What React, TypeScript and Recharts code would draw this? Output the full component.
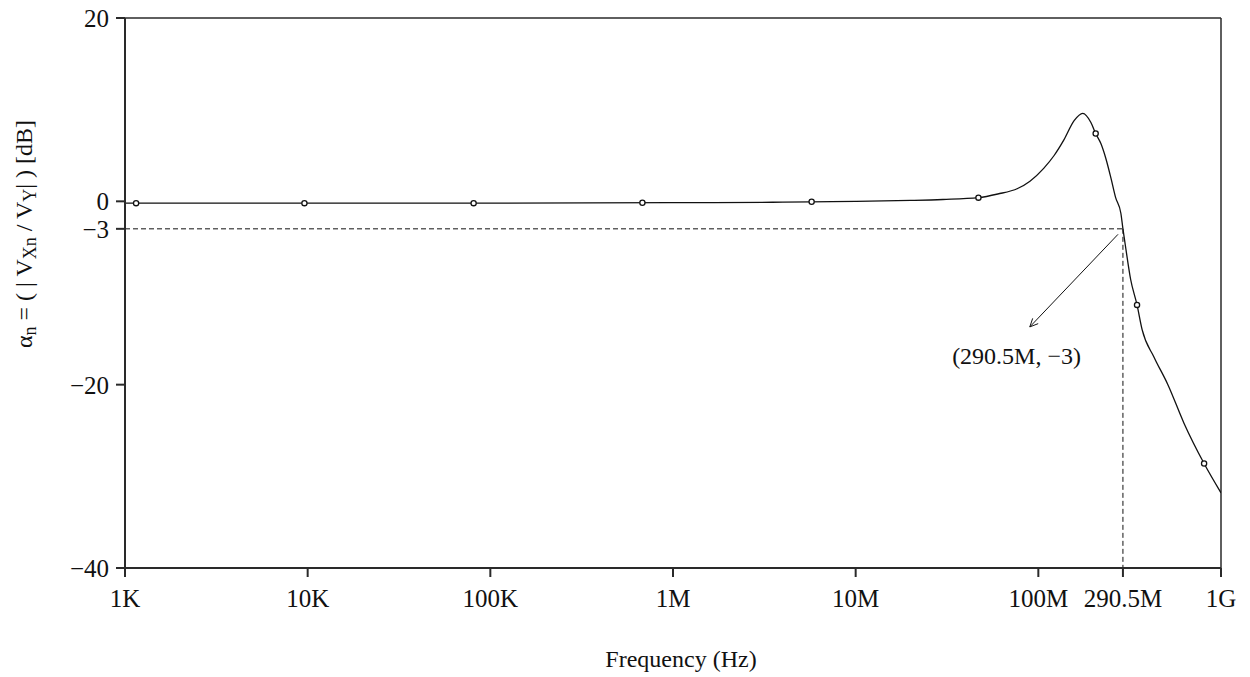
import React from 'react';
import {
  ComposedChart,
  Line,
  Scatter,
  XAxis,
  YAxis,
  ReferenceLine,
  ReferenceDot,
} from 'recharts';

// ---- data ----
const FREQ = [
  1e3, 1e4, 1e5, 1e6, 3.5e6, 5.7e6, 1e7, 2e7, 3e7, 4.7e7, 6e7, 7.7e7, 9e7, 1.07e8,
  1.22e8, 1.38e8, 1.57e8, 1.75e8, 1.94e8, 2.06e8, 2.2e8, 2.34e8, 2.5e8, 2.65e8,
  2.83e8, 2.905e8, 3.02e8, 3.2e8, 3.47e8, 3.7e8, 4.3e8, 5.12e8, 6.27e8, 8.08e8, 1e9,
];
const GAIN = [
  -0.2, -0.2, -0.2, -0.15, -0.1, -0.05, 0.0, 0.1, 0.2, 0.4, 0.8, 1.4, 2.2, 3.6,
  5.0, 6.7, 8.8, 9.6, 8.6, 7.4, 6.3, 4.7, 2.5, 0.4,
  -1.3, -3, -5.3, -8.5, -11.3, -14, -17, -20, -24.2, -28.6, -31.8,
];
const MARK_FREQ = [1.15e3, 9.6e3, 8.1e4, 6.8e5, 5.74e6, 4.7e7, 2.06e8, 3.47e8, 8.08e8];
const MARK_GAIN = [-0.2, -0.2, -0.2, -0.15, -0.05, 0.4, 7.4, -11.3, -28.6];

const X_TICKS = [1e3, 1e4, 1e5, 1e6, 1e7, 1e8, 2.905e8, 1e9];
const X_TICK_LABELS = ['1K', '10K', '100K', '1M', '10M', '100M', '290.5M', '1G'];
const Y_TICKS = [-40, -20, -3, 0, 20];
const Y_TICK_LABELS = ['\u221240', '\u221220', '\u22123', '0', '20'];

const CUTOFF_F = 2.905e8;
const CUTOFF_DB = -3;
const ARROW_FROM = { x: 2.73e8, y: -3.6 };
const ARROW_TO = { x: 8.98e7, y: -13.7 };
const NOTE_POS = { x: 7.6e7, y: -17 };
const NOTE_TEXT = '(290.5M, \u22123)';

const curveData = FREQ.map((f, i) => ({ f, g: GAIN[i] }));
const markData = MARK_FREQ.map((f, i) => ({ f, g: MARK_GAIN[i] }));

const FONT = "'Liberation Serif', 'Times New Roman', serif";
const INK = '#111';

const xLabel = (v: number) => {
  const i = X_TICKS.indexOf(v);
  return i >= 0 ? X_TICK_LABELS[i] : String(v);
};
const yLabel = (v: number) => {
  const i = Y_TICKS.indexOf(v);
  return i >= 0 ? Y_TICK_LABELS[i] : String(v);
};

const ArrowShape = (p: any) => {
  const { x1, y1, x2, y2 } = p;
  if ([x1, y1, x2, y2].some((v) => typeof v !== 'number' || isNaN(v))) return null;
  const ang = Math.atan2(y2 - y1, x2 - x1);
  const len = 9;
  const spread = (25 * Math.PI) / 180;
  const ax = x2 - len * Math.cos(ang - spread);
  const ay = y2 - len * Math.sin(ang - spread);
  const bx = x2 - len * Math.cos(ang + spread);
  const by = y2 - len * Math.sin(ang + spread);
  return (
    <g>
      <line x1={x1} y1={y1} x2={x2} y2={y2} stroke={INK} strokeWidth={1} />
      <polyline
        points={`${ax},${ay} ${x2},${y2} ${bx},${by}`}
        fill="none"
        stroke={INK}
        strokeWidth={1}
      />
    </g>
  );
};

const NoteShape = (p: any) => (
  <text
    x={p.cx}
    y={p.cy}
    dy={7}
    textAnchor="middle"
    fontFamily={FONT}
    fontSize={24}
    fill={INK}
  >
    {NOTE_TEXT}
  </text>
);

const MarkerShape = (p: any) => (
  <circle cx={p.cx} cy={p.cy} r={2.6} fill="#fff" stroke={INK} strokeWidth={1.3} />
);

const YTitle = (props: any) => {
  const vb = props.viewBox || { x: 0, y: 18, width: 125, height: 550 };
  const x = vb.x + 32;
  const y = vb.y + 216;
  return (
    <text
      x={x}
      y={y}
      transform={`rotate(-90, ${x}, ${y})`}
      textAnchor="middle"
      fontFamily={FONT}
      fontSize={24}
      fill={INK}
    >
      <tspan>α</tspan>
      <tspan dy={4} fontSize={18}>n</tspan>
      <tspan dy={-4}>{' = ( | V'}</tspan>
      <tspan dy={4} fontSize={18}>Xn</tspan>
      <tspan dy={-4}>{' / V'}</tspan>
      <tspan dy={4} fontSize={18}>Y</tspan>
      <tspan dy={-4}>{'| ) [dB]'}</tspan>
    </text>
  );
};

const XTitle = (props: any) => {
  const vb = props.viewBox || { x: 125, y: 568, width: 1096, height: 109 };
  return (
    <text
      x={vb.x + vb.width / 2 + 8}
      y={vb.y + 99}
      textAnchor="middle"
      fontFamily={FONT}
      fontSize={24}
      fill={INK}
    >
      Frequency (Hz)
    </text>
  );
};

export default function App() {
  return (
    <div style={{ margin: '-8px 0 0 -8px', width: 1250, height: 677 }}>
      <ComposedChart
        width={1250}
        height={677}
        margin={{ top: 18, right: 29, bottom: 0, left: 0 }}
        style={{ background: '#fff' }}
      >
        <XAxis
          type="number"
          dataKey="f"
          scale="log"
          domain={[1e3, 1e9]}
          allowDataOverflow
          ticks={X_TICKS}
          interval={0}
          tickFormatter={xLabel}
          height={109}
          tickSize={9}
          tickMargin={12}
          stroke="#2a2a2a"
          strokeWidth={2}
          tick={{ fontFamily: FONT, fontSize: 25, fill: INK }}
          label={{ content: XTitle }}
        />
        <YAxis
          type="number"
          dataKey="g"
          domain={[-40, 20]}
          allowDataOverflow
          ticks={Y_TICKS}
          interval={0}
          tickFormatter={yLabel}
          width={125}
          tickSize={9}
          tickMargin={7}
          stroke="#2a2a2a"
          strokeWidth={2}
          tick={{ fontFamily: FONT, fontSize: 25, fill: INK }}
          label={{ content: YTitle }}
        />
        <ReferenceLine y={20} stroke="#2a2a2a" strokeWidth={1.5} />
        <ReferenceLine x={1e9} stroke="#2a2a2a" strokeWidth={1.5} />
        <ReferenceLine
          segment={[
            { x: 1e3, y: CUTOFF_DB },
            { x: CUTOFF_F, y: CUTOFF_DB },
          ]}
          stroke={INK}
          strokeWidth={1}
          strokeDasharray="5 3"
        />
        <ReferenceLine
          segment={[
            { x: CUTOFF_F, y: CUTOFF_DB },
            { x: CUTOFF_F, y: -40 },
          ]}
          stroke={INK}
          strokeWidth={1}
          strokeDasharray="5 3"
        />
        <Line
          data={curveData}
          dataKey="g"
          type="monotone"
          stroke={INK}
          strokeWidth={1.3}
          dot={false}
          activeDot={false}
          isAnimationActive={false}
        />
        <Scatter
          data={markData}
          dataKey="g"
          shape={MarkerShape}
          isAnimationActive={false}
        />
        <ReferenceLine
          segment={[ARROW_FROM, ARROW_TO]}
          shape={ArrowShape}
          stroke={INK}
        />
        <ReferenceDot x={NOTE_POS.x} y={NOTE_POS.y} r={0} shape={NoteShape} />
      </ComposedChart>
    </div>
  );
}
